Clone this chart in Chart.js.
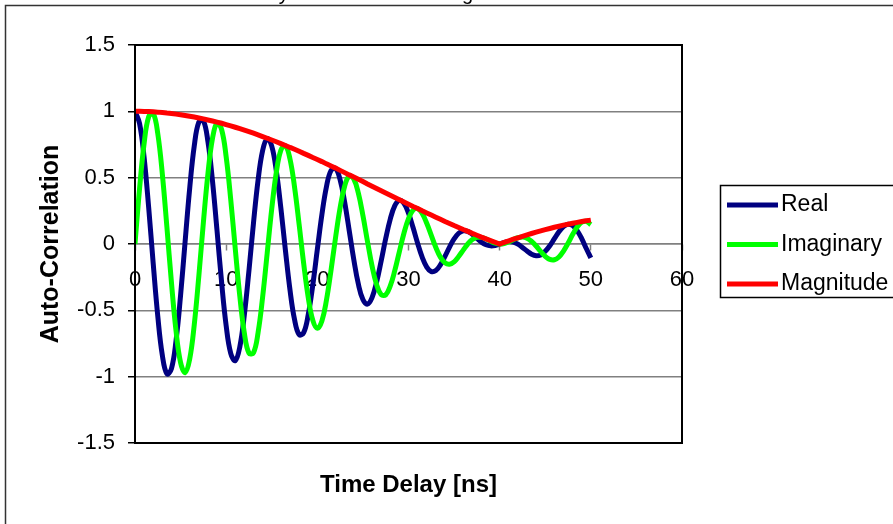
<!DOCTYPE html>
<html>
<head>
<meta charset="utf-8">
<title>Auto-Correlation</title>
<script src="https://cdn.jsdelivr.net/npm/chart.js@4.4.1/dist/chart.umd.min.js"></script>
<style>
  html, body { margin: 0; padding: 0; background: #fff; }
  canvas { display: block; }
</style>
</head>
<body>
<canvas id="acf-chart" width="893" height="524"></canvas>
<script>
'use strict';

/* ──────────────────────────────────
   Data: sampled every 0.5 ns
   ────────────────────────────────── */
var delayNs = [
  0, 0.5, 1, 1.5, 2, 2.5, 3, 3.5, 4, 4.5,
  5, 5.5, 6, 6.5, 7, 7.5, 8, 8.5, 9, 9.5,
  10, 10.5, 11, 11.5, 12, 12.5, 13, 13.5, 14, 14.5,
  15, 15.5, 16, 16.5, 17, 17.5, 18, 18.5, 19, 19.5,
  20, 20.5, 21, 21.5, 22, 22.5, 23, 23.5, 24, 24.5,
  25, 25.5, 26, 26.5, 27, 27.5, 28, 28.5, 29, 29.5,
  30, 30.5, 31, 31.5, 32, 32.5, 33, 33.5, 34, 34.5,
  35, 35.5, 36, 36.5, 37, 37.5, 38, 38.5, 39, 39.5,
  40, 40.5, 41, 41.5, 42, 42.5, 43, 43.5, 44, 44.5,
  45, 45.5, 46, 46.5, 47, 47.5, 48, 48.5, 49, 49.5,
  50
];

var realPart = [
  1, 0.909, 0.651, 0.275, -0.149, -0.545, -0.840, -0.979, -0.939, -0.729,
  -0.387, 0.021, 0.421, 0.739, 0.919, 0.929, 0.771, 0.475, 0.099, -0.289,
  -0.616, -0.824, -0.879, -0.774, -0.531, -0.199, 0.161, 0.481, 0.705, 0.794,
  0.738, 0.551, 0.271, -0.048, -0.346, -0.570, -0.683, -0.668, -0.534, -0.310,
  -0.041, 0.222, 0.432, 0.554, 0.570, 0.483, 0.315, 0.100, -0.118, -0.302,
  -0.419, -0.453, -0.404, -0.287, -0.128, 0.041, 0.188, 0.289, 0.329, 0.306,
  0.232, 0.124, 0.006, -0.099, -0.174, -0.208, -0.200, -0.157, -0.093, -0.023,
  0.038, 0.081, 0.099, 0.095, 0.073, 0.043, 0.014, -0.006, -0.014, -0.011,
  0, 0.012, 0.018, 0.014, -0.001, -0.026, -0.053, -0.077, -0.088, -0.082,
  -0.055, -0.013, 0.040, 0.092, 0.131, 0.149, 0.139, 0.101, 0.040, -0.034,
  -0.105
];

var imagPart = [
  0, 0.417, 0.758, 0.959, 0.985, 0.831, 0.526, 0.127, -0.292, -0.654,
  -0.894, -0.969, -0.867, -0.608, -0.243, 0.162, 0.530, 0.796, 0.913, 0.863,
  0.657, 0.336, -0.038, -0.396, -0.674, -0.823, -0.819, -0.668, -0.400, -0.069,
  0.265, 0.539, 0.707, 0.741, 0.641, 0.429, 0.149, -0.146, -0.402, -0.574,
  -0.635, -0.580, -0.423, -0.198, 0.049, 0.274, 0.437, 0.512, 0.490, 0.383,
  0.215, 0.020, -0.165, -0.306, -0.381, -0.383, -0.316, -0.199, -0.057, 0.081,
  0.191, 0.255, 0.267, 0.230, 0.156, 0.065, -0.026, -0.099, -0.142, -0.153,
  -0.134, -0.094, -0.046, 0, 0.034, 0.050, 0.050, 0.038, 0.021, 0.007,
  0, 0.004, 0.016, 0.033, 0.047, 0.053, 0.044, 0.020, -0.015, -0.056,
  -0.093, -0.116, -0.119, -0.098, -0.053, 0.006, 0.071, 0.128, 0.164, 0.171,
  0.146
];

var magnitude = [
  1, 1.000, 0.999, 0.998, 0.996, 0.994, 0.991, 0.987, 0.984, 0.979,
  0.974, 0.969, 0.963, 0.957, 0.950, 0.943, 0.935, 0.927, 0.919, 0.910,
  0.900, 0.890, 0.880, 0.869, 0.858, 0.847, 0.835, 0.823, 0.810, 0.797,
  0.784, 0.771, 0.757, 0.743, 0.728, 0.714, 0.699, 0.683, 0.668, 0.652,
  0.637, 0.621, 0.604, 0.588, 0.572, 0.555, 0.538, 0.521, 0.505, 0.488,
  0.471, 0.453, 0.436, 0.419, 0.402, 0.385, 0.368, 0.351, 0.334, 0.317,
  0.300, 0.283, 0.267, 0.250, 0.234, 0.218, 0.202, 0.186, 0.170, 0.155,
  0.139, 0.124, 0.109, 0.095, 0.080, 0.066, 0.052, 0.039, 0.026, 0.013,
  0, 0.012, 0.024, 0.036, 0.047, 0.058, 0.069, 0.079, 0.089, 0.099,
  0.108, 0.117, 0.126, 0.134, 0.142, 0.149, 0.156, 0.163, 0.169, 0.175,
  0.180
];

var seriesNames = ['Real', 'Imaginary', 'Magnitude'];
var seriesColors = ['#000080', '#00ff00', '#ff0000'];

var chartTitle = 'Time Delay Autocorrelation Magnitude';
var xTitle = 'Time Delay [ns]';
var yTitle = 'Auto-Correlation';

var FONT = "'Liberation Sans', Arial, sans-serif";

function toPoints(values) {
  return delayNs.map(function (t, i) {
    return { x: t, y: values[i] };
  });
}

// plain number labels: 1, 0.5, -1 (no trailing .0)
function plainTick(value) {
  return String(Math.round(value * 10) / 10);
}

/* ──────────────────────────────────
   Frame, titles and boxed legend
   ────────────────────────────────── */
var excelDecor = {
  id: 'excelDecor',
  beforeDraw: function (chart) {
    var ctx = chart.ctx;
    ctx.save();
    ctx.fillStyle = '#fff';
    ctx.fillRect(0, 0, chart.width, chart.height);

    // chart title, only its lower edge is on screen
    ctx.fillStyle = '#000';
    ctx.font = '20px ' + FONT;
    ctx.textAlign = 'center';
    ctx.textBaseline = 'alphabetic';
    ctx.fillText(chartTitle, 358, -0.5);

    // outer chart border
    ctx.strokeStyle = '#333';
    ctx.lineWidth = 1.5;
    ctx.strokeRect(5.5, 5.5, chart.width + 20, chart.height + 20);
    ctx.restore();
  },
  afterDraw: function (chart) {
    var ctx = chart.ctx;
    var a = chart.chartArea;
    ctx.save();

    // plot area border
    ctx.strokeStyle = '#000';
    ctx.lineWidth = 2;
    ctx.strokeRect(a.left, a.top, a.right - a.left, a.bottom - a.top);

    // x axis title
    ctx.fillStyle = '#000';
    ctx.font = 'bold 24px ' + FONT;
    ctx.textAlign = 'center';
    ctx.textBaseline = 'alphabetic';
    ctx.fillText(xTitle, (a.left + a.right) / 2, 491.5);

    // legend box
    ctx.strokeStyle = '#000';
    ctx.lineWidth = 1.5;
    ctx.strokeRect(720.5, 185.5, 200, 112);

    ctx.font = '23px ' + FONT;
    ctx.textAlign = 'left';
    ctx.textBaseline = 'middle';
    chart.data.datasets.forEach(function (ds, i) {
      var y = 205 + i * 39.5;
      ctx.strokeStyle = ds.borderColor;
      ctx.lineWidth = 5;
      ctx.beginPath();
      ctx.moveTo(727, y);
      ctx.lineTo(778, y);
      ctx.stroke();
      ctx.fillStyle = '#000';
      ctx.fillText(ds.label, 781, y);
    });
    ctx.restore();
  },
};

var datasets = [realPart, imagPart, magnitude].map(function (values, i) {
  return {
    label: seriesNames[i],
    data: toPoints(values),
    borderColor: seriesColors[i],
    backgroundColor: seriesColors[i],
    borderWidth: 5,
    pointRadius: 0,
    tension: i < 2 ? 0.4 : 0,
    fill: false,
    order: 3 - i, // later series drawn on top
  };
});

new Chart(document.getElementById('acf-chart').getContext('2d'), {
  type: 'line',
  data: { datasets: datasets },
  options: {
    responsive: false,
    animation: false,
    devicePixelRatio: 1,
    layout: { padding: { left: 20, top: 45, right: 211, bottom: 81 } },
    plugins: {
      legend: { display: false },
      tooltip: { enabled: false },
    },
    scales: {
      x: {
        type: 'linear',
        position: { y: 0 },
        min: 0,
        max: 60,
        afterFit: function (scale) {
          scale.height = 0;
        },
        ticks: {
          stepSize: 10,
          color: '#000',
          font: { family: FONT, size: 22 },
          padding: 17,
          maxRotation: 0,
          callback: plainTick,
        },
        grid: {
          drawOnChartArea: false,
          drawTicks: true,
          tickLength: 6,
          tickColor: '#808080',
          tickWidth: 1.5,
        },
        border: { color: '#808080', width: 1.5 },
      },
      y: {
        position: 'left',
        min: -1.5,
        max: 1.5,
        afterFit: function (scale) {
          scale.width = 115;
        },
        ticks: {
          stepSize: 0.5,
          color: '#000',
          font: { family: FONT, size: 22 },
          padding: 13,
          callback: plainTick,
        },
        grid: {
          color: '#808080',
          lineWidth: 1.5,
          tickColor: '#000',
          tickLength: 7,
          tickWidth: 1.5,
        },
        border: { color: '#000', width: 2 },
        title: {
          display: true,
          text: yTitle,
          color: '#000',
          font: { family: FONT, size: 25, weight: 'bold' },
          padding: { top: 16, bottom: 0 },
        },
      },
    },
  },
  plugins: [excelDecor],
});
</script>
</body>
</html>
